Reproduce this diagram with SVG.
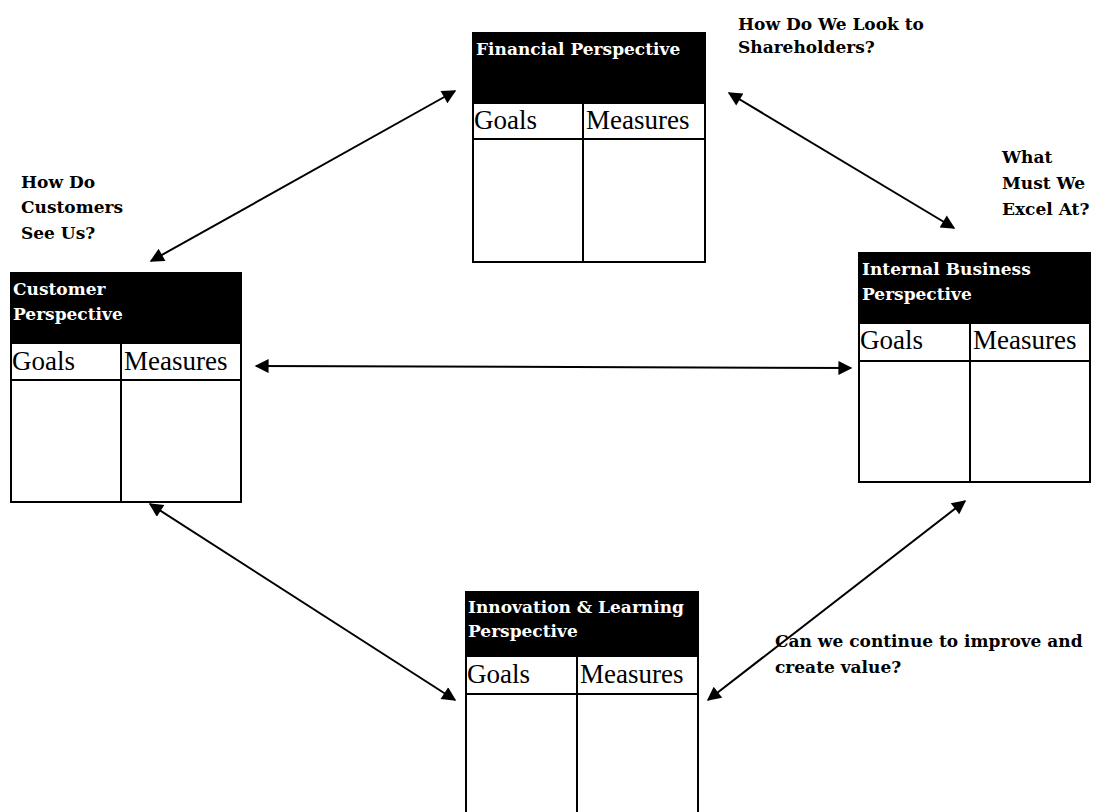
<svg xmlns="http://www.w3.org/2000/svg" width="1095" height="812" viewBox="0 0 1095 812">
<defs>
<style>
.bx{fill:#fff;stroke:#000;stroke-width:2}
.hd{fill:#000}
.ln{stroke:#000;stroke-width:2;fill:none}
.ht{font-family:"DejaVu Serif",serif;font-weight:bold;font-size:17px;fill:#fff}
.ct{font-family:"Liberation Serif",serif;font-size:27px;fill:#000}
.lb{font-family:"DejaVu Serif",serif;font-weight:bold;font-size:17px;fill:#000}
.ar{stroke:#000;stroke-width:2;fill:none;marker-start:url(#ah);marker-end:url(#ah)}
</style>
<marker id="ah" viewBox="0 0 10 10" refX="9" refY="5" markerWidth="8" markerHeight="7" markerUnits="strokeWidth" orient="auto-start-reverse">
<path d="M0,0 L10,5 L0,10 z" fill="#000"/>
</marker>
</defs>
<rect width="1095" height="812" fill="#fff"/>
<g id="connectors">
<line class="ar" x1="455" y1="91" x2="151" y2="261"/>
<line class="ar" x1="729" y1="93" x2="954" y2="228"/>
<line class="ar" x1="256" y1="366" x2="851" y2="368"/>
<line class="ar" x1="150" y1="504" x2="455" y2="700"/>
<line class="ar" x1="708" y1="700" x2="965" y2="501"/>
</g>
<g id="financial">
<rect class="bx" x="473" y="33" width="232" height="229"/>
<rect class="hd" x="473" y="33" width="232" height="71"/>
<line class="ln" x1="473" y1="139" x2="705" y2="139"/>
<line class="ln" x1="583" y1="104" x2="583" y2="262"/>
<text class="ht" x="476" y="55">Financial Perspective</text>
<text class="ct" x="474" y="129">Goals</text>
<text class="ct" x="586" y="129">Measures</text>
</g>
<g id="customer">
<rect class="bx" x="11" y="273" width="230" height="229"/>
<rect class="hd" x="11" y="273" width="230" height="71"/>
<line class="ln" x1="11" y1="380" x2="241" y2="380"/>
<line class="ln" x1="121" y1="344" x2="121" y2="502"/>
<text class="ht" x="13" y="295">Customer</text>
<text class="ht" x="13" y="320">Perspective</text>
<text class="ct" x="12" y="370">Goals</text>
<text class="ct" x="124" y="370">Measures</text>
</g>
<g id="internal">
<rect class="bx" x="859" y="253" width="231" height="229"/>
<rect class="hd" x="859" y="253" width="231" height="71"/>
<line class="ln" x1="859" y1="361" x2="1090" y2="361"/>
<line class="ln" x1="970" y1="324" x2="970" y2="482"/>
<text class="ht" x="862" y="275">Internal Business</text>
<text class="ht" x="862" y="300">Perspective</text>
<text class="ct" x="860" y="349">Goals</text>
<text class="ct" x="973" y="349">Measures</text>
</g>
<g id="innovation">
<rect class="bx" x="466" y="592" width="232" height="240"/>
<rect class="hd" x="466" y="592" width="232" height="65"/>
<line class="ln" x1="466" y1="694" x2="698" y2="694"/>
<line class="ln" x1="577" y1="657" x2="577" y2="832"/>
<text class="ht" x="468" y="613">Innovation &amp; Learning</text>
<text class="ht" x="468" y="637">Perspective</text>
<text class="ct" x="467" y="683">Goals</text>
<text class="ct" x="580" y="683">Measures</text>
</g>
<g id="labels">
<text class="lb" x="738" y="30">How Do We Look to</text>
<text class="lb" x="738" y="53">Shareholders?</text>
<text class="lb" x="21" y="188">How Do</text>
<text class="lb" x="21" y="213">Customers</text>
<text class="lb" x="21" y="239">See Us?</text>
<text class="lb" x="1002" y="163">What</text>
<text class="lb" x="1002" y="189">Must We</text>
<text class="lb" x="1002" y="215">Excel At?</text>
<text class="lb" x="775" y="647">Can we continue to improve and</text>
<text class="lb" x="775" y="673">create value?</text>
</g>
</svg>
